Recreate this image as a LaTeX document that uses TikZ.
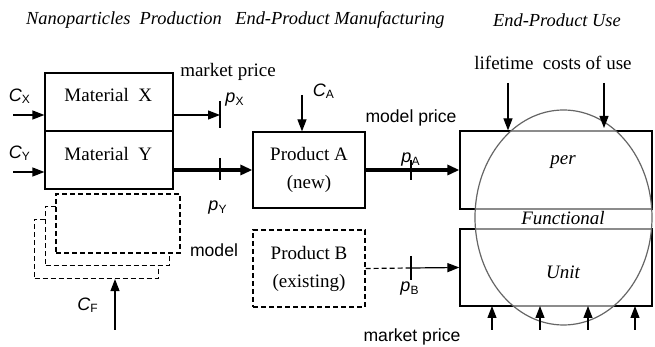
\documentclass[tikz,border=0pt]{standalone}
\usepackage{fontspec}
\setmainfont{Liberation Serif}
\setsansfont{Liberation Sans}
\usetikzlibrary{arrows.meta,positioning,calc}
\newcommand{\sym}[2]{{\sffamily\itshape #1}\textsubscript{\sffamily #2}}
\tikzset{box/.style={draw,line width=0.6pt,minimum width=64pt,minimum height=29pt,inner sep=0pt,font=\fontsize{9.5}{11}\selectfont,align=center},
dashline/.style={dash pattern=on 2.5pt off 1.5pt},
fbox/.style={box,dashline,fill=white,minimum width=62pt,minimum height=29.5pt},
arr/.style={-{Triangle[length=6pt,width=4.5pt]},line width=0.6pt},
fat/.style={-{Triangle[length=6pt,width=5pt]},line width=1.6pt},
bar/.style={line width=1pt},
serif/.style={font=\fontsize{9.5}{11}\selectfont},
sans/.style={font=\sffamily\fontsize{8.8}{10}\selectfont},
title/.style={font=\itshape\fontsize{9.2}{11}\selectfont},
sym/.style={font=\fontsize{9}{10}\selectfont}}
\begin{document}
\begin{tikzpicture}[x=0.5pt,y=-0.5pt]
\useasboundingbox (0,0) rectangle (655,347);
\node[title] (t1) at(124,20){Nanoparticles\ \ Production};
\node[title] (t2) at(340,20){End-Product Manufacturing};
\node[title] (t3) at(557,20){End-Product Use};
\node[box] (mx) at(109,102){};
\node[box] (my) at(109,160){};
\node[serif,anchor=west] (mxt) at([xshift=6.5pt,yshift=3.5pt]mx.west){Material\ \ X};
\node[serif,anchor=west] (myt) at([xshift=6.5pt,yshift=3pt]my.west){Material\ \ Y};
\node[fbox] (f3) at(96.5,249){};
\node[fbox] (f2) at(107.5,236){};
\node[fbox] (f1) at(118,223.5){};
\node[box,minimum width=56pt,minimum height=38pt] (pa) at(309,170){Product A\\[3pt](new)};
\node[box,dashline,minimum width=56pt,minimum height=38.5pt] (pb) at(309,268.5){Product B\\[3pt](existing)};
\node[box,minimum width=96pt,minimum height=39pt] (up) at(556,170){};
\node[box,minimum width=96pt,minimum height=38.5pt] (lo) at(556,267.5){};
\draw[black!60,line width=0.6pt,fill=white,fill opacity=0.55] (563.5,217.5) ellipse[x radius=44.25pt,y radius=53.75pt];
\node[font=\itshape\fontsize{9.5}{11}\selectfont] (per) at(563,162){per};
\node[font=\itshape\fontsize{9.5}{11}\selectfont] (fu) at(563,218){Functional};
\node[font=\itshape\fontsize{9.5}{11}\selectfont] (un) at(563,272){Unit};
\coordinate (cx) at(13,115);
\coordinate (cy) at(13,172);
\coordinate (px) at(220,115);
\coordinate (py) at(220,170);
\coordinate (pab) at(411,170);
\coordinate (pbb) at(411,268);
\coordinate (ca) at(302,95);
\coordinate (cf) at(115,330);
\coordinate (l1) at(508,83);
\coordinate (l2) at(604,83);
\draw[arr](cx)--(cx-|mx.west);
\draw[arr](cy)--(cy-|my.west);
\draw[arr](mx.east|-px)--(px);
\draw[bar]([yshift=7pt]px)--([yshift=-6.5pt]px);
\draw[fat](my.east|-pa.west)--(pa.west);
\draw[bar]([yshift=6pt]py)--([yshift=-5pt]py);
\draw[fat](pa.east)--(up.west);
\draw[bar]([yshift=5pt]pab)--([yshift=-5pt]pab);
\draw[dashline,line width=0.6pt](pb.east)--(pbb);
\draw[arr](pbb)--(lo.west);
\draw[bar]([yshift=6pt]pbb)--([yshift=-6pt]pbb);
\draw[arr](ca)--(ca|-pa.north);
\draw[arr](cf)--(cf|-f3.south);
\draw[arr](l1)--(l1|-up.north);
\draw[arr](l2)--(604,128);
\foreach \x in {492,540,588,635}
  \draw[arr](\x,330)--(\x,306);
\node[sym] (cxl) at(20,96){\sym{C}{X}};
\node[sym] (cyl) at(20,153){\sym{C}{Y}};
\node[sym] (pxl) at(235,100){\sym{p}{X}};
\node[sym] (pyl) at(218,208){\sym{p}{Y}};
\node[sym] (cal) at(324,91){\sym{C}{A}};
\node[sym] (pal) at(411,160){\sym{p}{A}};
\node[sym] (pbl) at(410,289){\sym{p}{B}};
\node[sym] (cfl) at(88,305){\sym{C}{F}};
\node[serif] (mp1) at(228,72){market price};
\node[sans] (mp2) at(411,118){model price};
\node[sans] (mo) at(214,250){model};
\node[sans] (mp3) at(412,337){market price};
\node[serif] (lc) at(553,63){lifetime\ \ costs of use};
\end{tikzpicture}
\end{document}
